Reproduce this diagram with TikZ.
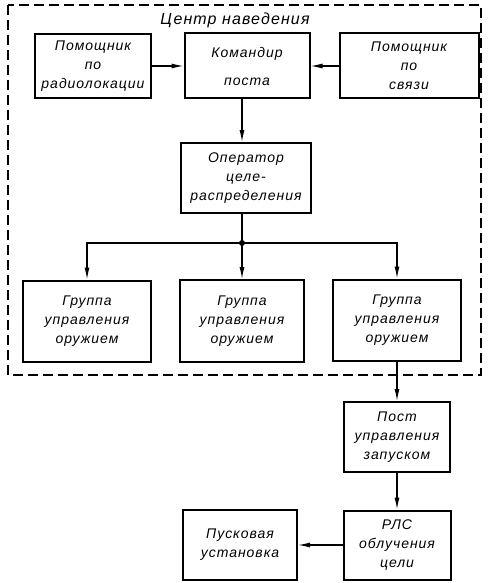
\documentclass[tikz,border=0pt]{standalone}
\usepackage{fontspec}
\setmainfont{Liberation Sans}
\newfontfamily\chert{Liberation Sans}[LetterSpace=7]
\usetikzlibrary{arrows.meta}
\begin{document}
\begin{tikzpicture}
      [%%%%%%%%%%%%%%%%%%%%%%%%%%%%%%
          x=1pt, y=-1pt,
          txt/.style={font=\chert\itshape\fontsize{14}{19}\selectfont},
          box/.style={rectangle,draw=black,line width=2pt,align=center,inner sep=0pt,txt},
          lin/.style={line width=1.2pt,-{Latex[length=12pt,width=5pt]}}
      ]%%%%%%%%%%%%%%%%%%%%%%%%%%%%%%

  \useasboundingbox (0,0) rectangle (491,583);

  % centr navedeniya
  \draw[line width=1.2pt,dash pattern=on 10pt off 5pt] (8,5) rectangle (481,375);
  \node[txt,font=\chert\itshape\fontsize{16}{19}\selectfont] (titul) at (235,20) {Центр наведения};

  \node[box,minimum width=116pt,minimum height=64pt] (radio) at (93,66) {Помощник\\по\\радиолокации};
  \node[box,minimum width=125pt,minimum height=65pt] (komand) at (247,66) {Командир\\[9pt]поста};
  \node[box,minimum width=139pt,minimum height=65pt] (svyaz) at (409,66) {Помощник\\по\\связи};
  \node[box,minimum width=130pt,minimum height=70pt] (oper) at (246,178) {Оператор\\целе-\\распределения};

  \coordinate (J) at (242,243);

  \node[box,minimum width=128pt,minimum height=81pt] (gr1) at (87,321) {Группа\\управления\\оружием};
  \node[box,minimum width=124pt,minimum height=82pt] (gr2) at (242,321) {Группа\\управления\\оружием};
  \node[box,minimum width=128pt,minimum height=81pt] (gr3) at (397,320) {Группа\\управления\\оружием};

  % vne centra
  \node[box,minimum width=106pt,minimum height=70pt] (post) at (397,437) {Пост\\управления\\запуском};
  \node[box,minimum width=107pt,minimum height=69pt] (rls) at (397,545) {РЛС\\облучения\\цели};
  \node[box,minimum width=114pt,minimum height=70pt] (pusk) at (240,545) {Пусковая\\установка};

  \draw[lin] (radio) -- (komand);
  \draw[lin] (svyaz) -- (komand);
  \draw[lin] (komand.south -| J) -- (oper.north -| J);
  \draw[line width=1.2pt] (oper.south -| J) -- (J);
  \fill (J) circle (3pt);
  \draw[lin] (J) -| (gr1);
  \draw[lin] (J) -- (gr2);
  \draw[lin] (J) -| (gr3);
  \draw[lin] (gr3) -- (post);
  \draw[lin] (post) -- (rls);
  \draw[lin] (rls) -- (pusk);

  \end{tikzpicture}
\end{document}
